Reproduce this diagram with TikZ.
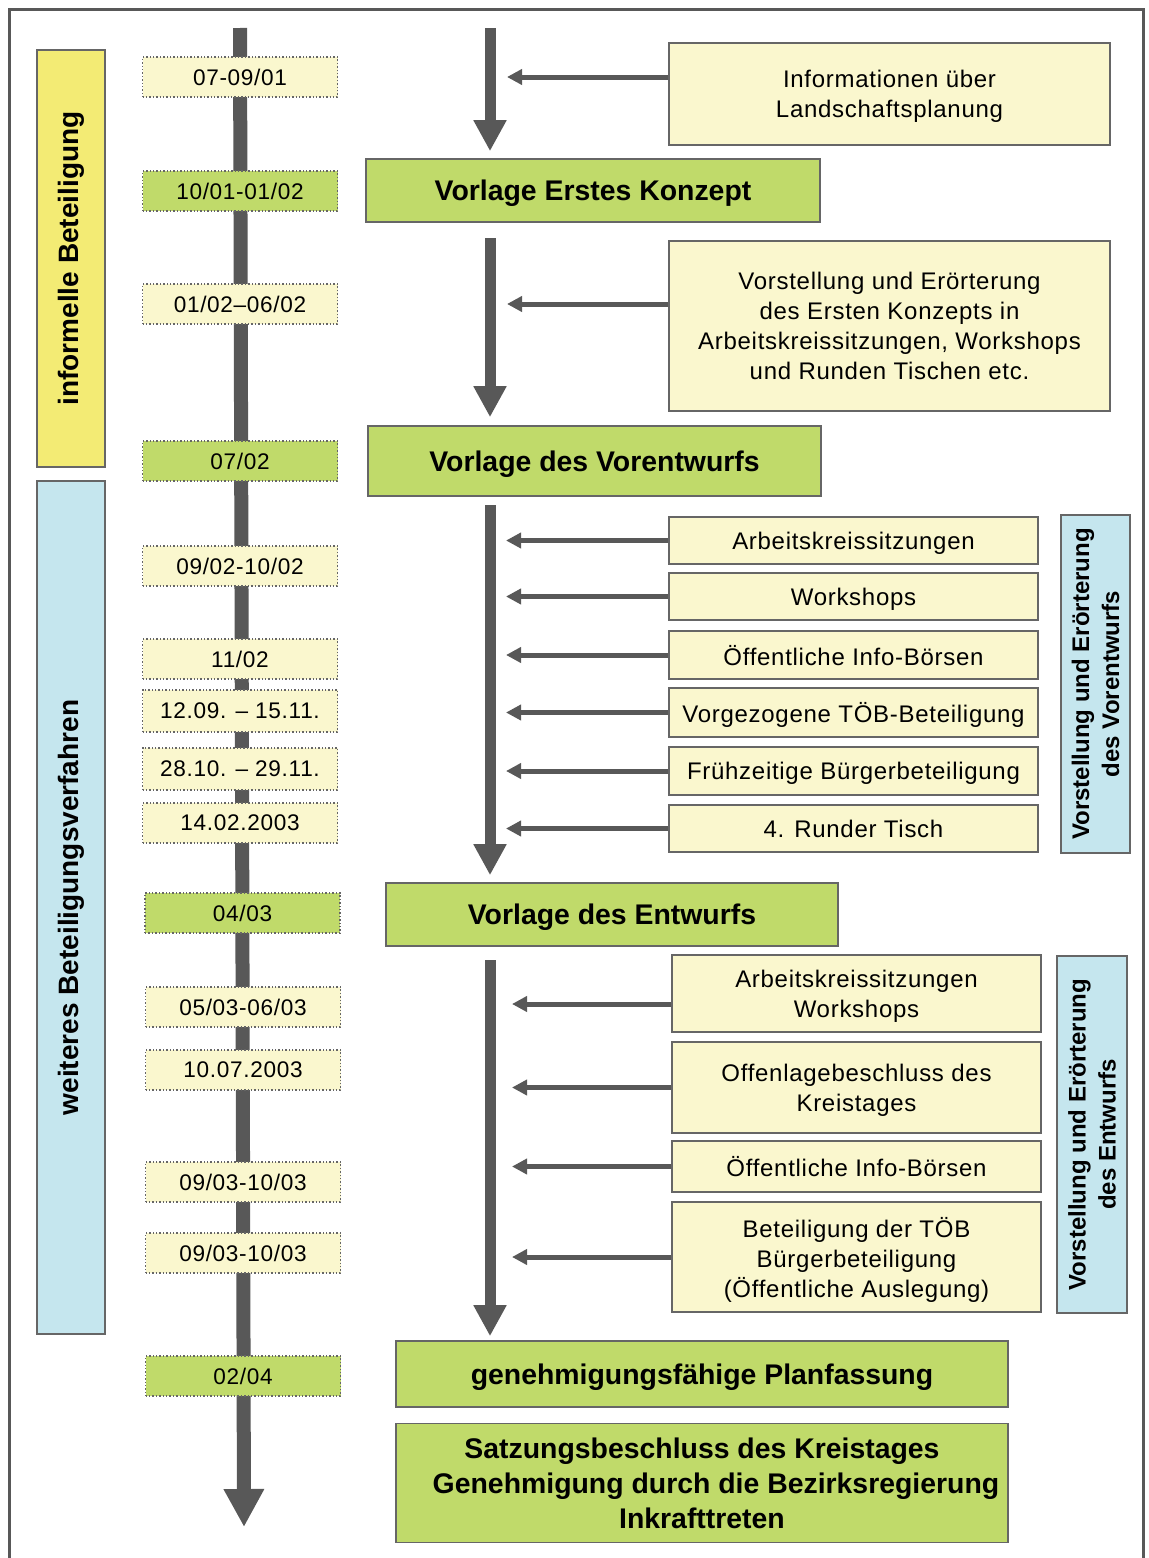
\documentclass[tikz,border=0pt]{standalone}
\usepackage{fontspec}
\setmainfont{Liberation Sans}[LetterSpace=3, BoldFeatures={LetterSpace=0}]
\usetikzlibrary{arrows.meta}

\definecolor{paleyellow}{HTML}{FAF7CE}
\definecolor{leafgreen}{HTML}{C0DA6A}
\definecolor{bandyellow}{HTML}{F3EB74}
\definecolor{bandblue}{HTML}{C5E6EE}
\definecolor{arrowgray}{HTML}{585858}
\definecolor{linegray}{HTML}{666666}

\tikzset{
    boxsize/.style 2 args={minimum width=#1*0.5pt, minimum height=#2*0.5pt},
    datebox/.style={draw=linegray, densely dotted, line width=0.7pt, inner sep=0pt, text depth=0pt,
        boxsize={195}{40}, font=\fontsize{11.3}{13}\selectfont},
    datey/.style={datebox, fill=paleyellow},
    dateg/.style={datebox, fill=leafgreen},
    stagebox/.style={draw=linegray, line width=0.8pt, fill=leafgreen, inner sep=0pt, text depth=0pt,
        align=center, font=\bfseries\fontsize{14.2}{17.5}\selectfont},
    infobox/.style={draw=linegray, line width=0.8pt, fill=paleyellow, inner sep=0pt, text depth=0pt,
        align=center, font=\fontsize{12}{15}\selectfont},
    bandbox/.style={draw=linegray, line width=0.8pt, rotate=90, inner sep=0pt,
        align=center, font=\bfseries\fontsize{14}{17}\selectfont},
    phasebox/.style={draw=linegray, line width=0.8pt, fill=bandblue, rotate=90, inner sep=0pt,
        align=center, font=\bfseries\fontsize{12}{15}\selectfont},
    timeline/.style={draw=arrowgray, line width=7pt, -{Triangle[length=19pt, width=19pt]}},
    flow/.style={draw=arrowgray, line width=5.5pt, -{Triangle[length=15.5pt, width=15.5pt]}},
    feed/.style={draw=arrowgray, line width=2.5pt, -{Triangle[length=7.5pt, width=7.5pt]}},
}

\begin{document}
\begin{tikzpicture}[x=0.5pt, y=-0.5pt]
    \useasboundingbox (0,0) rectangle (1148,1558);
    \draw[arrowgray, line width=1.5pt] (9,1570) -- (9,9) -- (1143,9) -- (1143,1570);

    % Coordinates
    \coordinate (tl) at (240,28);
    \coordinate (te) at (244,1527);
    \coordinate (fa) at (490,28);
    \coordinate (fb) at (490,238);
    \coordinate (fc) at (490,505);
    \coordinate (fd) at (490,960);

    % Timeline
    \draw[timeline] (tl) -- (te);

    % Bands
    \node[bandbox, fill=bandyellow, boxsize={417}{68}] (bandA) at (71,258.5) {informelle Beteiligung};
    \node[bandbox, fill=bandblue, boxsize={853}{68}] (bandB) at (71,907.5) {weiteres Beteiligungsverfahren};

    % Dates
    \node[datey] (d1) at (240,77) {07-09/01};
    \node[dateg] (d2) at (240,191) {10/01-01/02};
    \node[datey] (d3) at (240,304) {01/02--06/02};
    \node[dateg] (d4) at (240,461) {07/02};
    \node[datey] (d5) at (240,566) {09/02-10/02};
    \node[datey] (d6) at (240,659) {11/02};
    \node[datey, boxsize={195}{42}] (d7) at (240,711) {12.09. -- 15.11.};
    \node[datey, boxsize={195}{42}] (d8) at (240,769) {28.10. -- 29.11.};
    \node[datey] (d9) at (240,823) {14.02.2003};
    \node[dateg] (d10) at (242.5,913) {04/03};
    \node[datey] (d11) at (243,1007) {05/03-06/03};
    \node[datey] (d12) at (243,1070) {10.07.2003};
    \node[datey] (d13) at (243,1182) {09/03-10/03};
    \node[datey] (d14) at (243,1253) {09/03-10/03};
    \node[dateg] (d15) at (243,1376) {02/04};

    % Stages
    \node[stagebox, boxsize={454}{63}] (s1) at (593,190.5) {Vorlage Erstes Konzept};
    \node[stagebox, boxsize={453}{70}] (s2) at (594.5,461) {Vorlage des Vorentwurfs};
    \node[stagebox, boxsize={452}{63}] (s3) at (612,914.5) {Vorlage des Entwurfs};
    \node[stagebox, boxsize={612}{66}] (s4) at (702,1374) {genehmigungsfähige Planfassung};
    \node[stagebox, boxsize={612}{119}] (s5) at (702,1483) {Satzungsbeschluss des Kreistages\\
        \hspace*{14pt}Genehmigung durch die Bezirksregierung\\Inkrafttreten};

    % Information
    \node[infobox, boxsize={441}{102}] (i1) at (889.5,94) {Informationen über\\Landschaftsplanung};
    \node[infobox, boxsize={441}{170}] (i2) at (889.5,326) {Vorstellung und Erörterung\\
        des Ersten Konzepts in\\Arbeitskreissitzungen, Workshops\\und Runden Tischen etc.};
    \node[infobox, boxsize={369}{47}] (r1) at (853.5,540.5) {Arbeitskreissitzungen};
    \node[infobox, boxsize={369}{47}] (r2) at (853.5,596.5) {Workshops};
    \node[infobox, boxsize={369}{48}] (r3) at (853.5,655) {Öffentliche Info-Börsen};
    \node[infobox, boxsize={369}{49}] (r4) at (853.5,712.5) {Vorgezogene TÖB-Beteiligung};
    \node[infobox, boxsize={369}{48}] (r5) at (853.5,771) {Frühzeitige Bürgerbeteiligung};
    \node[infobox, boxsize={369}{47}] (r6) at (853.5,828.5) {4. Runder Tisch};
    \node[infobox, boxsize={369}{77}] (t1) at (856.5,993.5) {Arbeitskreissitzungen\\Workshops};
    \node[infobox, boxsize={369}{91}] (t2) at (856.5,1087.5) {Offenlagebeschluss des\\Kreistages};
    \node[infobox, boxsize={369}{51}] (t3) at (856.5,1166.5) {Öffentliche Info-Börsen};
    \node[infobox, boxsize={369}{110}] (t4) at (856.5,1257) {Beteiligung der TÖB\\
        Bürgerbeteiligung\\(Öffentliche Auslegung)};

    % Phases
    \node[phasebox, boxsize={338}{69}] (p1) at (1095.5,684) {Vorstellung und Erörterung\\des Vorentwurfs};
    \node[phasebox, boxsize={357}{70}] (p2) at (1092,1134.5) {Vorstellung und Erörterung\\des Entwurfs};

    % Arrows
    \draw[flow, shorten >=3.5pt] (fa) -- (fa |- s1.north);
    \draw[flow, shorten >=4pt] (fb) -- (fb |- s2.north);
    \draw[flow, shorten >=3.5pt] (fc) -- (fc |- s3.north);
    \draw[flow, shorten >=2pt] (fd) -- (fd |- s4.north);

    \draw[feed, shorten >=8.5pt] ([yshift=8.5pt]i1.west) -- ([yshift=8.5pt]i1.west -| fa);
    \draw[feed, shorten >=8.5pt] ([yshift=11pt]i2.west) -- ([yshift=11pt]i2.west -| fb);
    \draw[feed, shorten >=8pt] (r1.west) -- (r1.west -| fc);
    \draw[feed, shorten >=8pt] (r2.west) -- (r2.west -| fc);
    \draw[feed, shorten >=8pt] (r3.west) -- (r3.west -| fc);
    \draw[feed, shorten >=8pt] (r4.west) -- (r4.west -| fc);
    \draw[feed, shorten >=8pt] (r5.west) -- (r5.west -| fc);
    \draw[feed, shorten >=8pt] (r6.west) -- (r6.west -| fc);
    \draw[feed, shorten >=11pt] ([yshift=-5.25pt]t1.west) -- ([yshift=-5.25pt]t1.west -| fd);
    \draw[feed, shorten >=11pt] (t2.west) -- (t2.west -| fd);
    \draw[feed, shorten >=11pt] (t3.west) -- (t3.west -| fd);
    \draw[feed, shorten >=11pt] (t4.west) -- (t4.west -| fd);

\end{tikzpicture}
\end{document}
